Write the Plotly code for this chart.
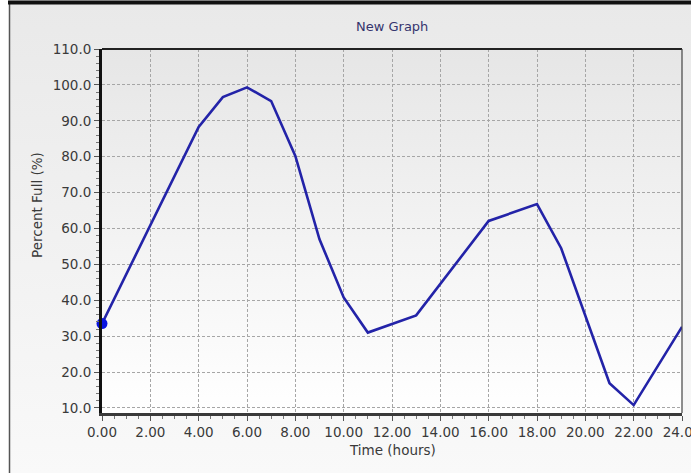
import base64
import plotly.graph_objects as go

# ---- data ----
hours = [0, 4, 5, 6, 7, 8, 9, 10, 11, 13, 16, 18, 19, 21, 22, 24]
percent_full = [33.5, 88.3, 96.6, 99.3, 95.5, 80.2, 57.0, 40.8, 31.0, 35.8,
                62.1, 66.8, 54.5, 16.9, 10.8, 32.6]
x_ticks = [0, 2, 4, 6, 8, 10, 12, 14, 16, 18, 20, 22, 24]
y_ticks = [10, 20, 30, 40, 50, 60, 70, 80, 90, 100, 110]

W, H = 691, 473
L, R, T, B = 102, 9, 49, 60
PW, PH = W - L - R, H - T - B

FONT = "DejaVu Sans"


def grad_uri(top, bottom):
    svg = (
        '<svg xmlns="http://www.w3.org/2000/svg" width="100" height="100" '
        'preserveAspectRatio="none">'
        '<defs><linearGradient id="g" x1="0" y1="0" x2="0" y2="1">'
        f'<stop offset="0" stop-color="{top}"/>'
        f'<stop offset="1" stop-color="{bottom}"/>'
        '</linearGradient></defs>'
        '<rect width="100" height="100" fill="url(#g)"/></svg>'
    )
    return "data:image/svg+xml;base64," + base64.b64encode(svg.encode()).decode()


def px(xp):
    return (xp - L) / PW


def py(yp):
    return (H - B - yp) / PH


fig = go.Figure()
fig.add_trace(go.Scatter(
    x=hours, y=percent_full, mode="lines",
    line=dict(color="#2323a8", width=2.6), hoverinfo="x+y", showlegend=False,
))
fig.add_trace(go.Scatter(
    x=hours[:1], y=percent_full[:1], mode="markers",
    marker=dict(color="#0a14e0", size=11, line=dict(width=0)),
    showlegend=False, cliponaxis=False,
))

axis_common = dict(
    showgrid=True, gridcolor="#a6a6a6", gridwidth=1, griddash="3px,2px",
    zeroline=False, showline=True, ticks="outside", ticklen=5, tickwidth=1,
    tickcolor="#555555", tickfont=dict(family=FONT, size=13.5, color="#3a3a3a"),
    automargin=False, ticklabeloverflow="allow",
)

fig.update_layout(
    width=W, height=H,
    margin=dict(l=L, r=R, t=T, b=B, pad=0),
    paper_bgcolor="#ffffff",
    plot_bgcolor="rgba(0,0,0,0)",
    showlegend=False,
    xaxis=dict(
        range=[0, 24], tickvals=x_ticks, tickformat=".2f",
        linecolor="#3a3a3a", linewidth=3,
        minor=dict(dtick=0.5, ticklen=3, tickcolor="#777777", ticks="outside", showgrid=False),
        **axis_common,
    ),
    yaxis=dict(
        range=[8.6, 110], tickvals=y_ticks, tickformat=".1f",
        linecolor="#111111", linewidth=3,
        minor=dict(dtick=2, ticklen=3, tickcolor="#777777", ticks="outside", showgrid=False),
        **axis_common,
    ),
    images=[
        dict(source=grad_uri("#e9e9e9", "#f9f9f9"), xref="paper", yref="paper",
             x=px(0), y=py(0), sizex=W / PW, sizey=H / PH,
             xanchor="left", yanchor="top", sizing="stretch", layer="below"),
        dict(source=grad_uri("#e6e6e6", "#ffffff"), xref="paper", yref="paper",
             x=0, y=1, sizex=1, sizey=1,
             xanchor="left", yanchor="top", sizing="stretch", layer="below"),
    ],
    shapes=[
        # outer frame: left white strip, gray border line, dark top bar
        dict(type="rect", xref="paper", yref="paper", x0=px(0), x1=px(9),
             y0=py(H), y1=py(0), fillcolor="#ffffff", line=dict(width=0), layer="below"),
        dict(type="line", xref="paper", yref="paper", x0=px(9.5), x1=px(9.5),
             y0=py(4), y1=py(H), line=dict(color="#555555", width=1.5)),
        dict(type="line", xref="paper", yref="paper", x0=px(8), x1=px(W),
             y0=py(2.5), y1=py(2.5), line=dict(color="#111111", width=4)),
        # plot frame (top/right)
        dict(type="line", xref="paper", yref="paper", x0=0, x1=1, y0=1, y1=1,
             line=dict(color="#222222", width=2)),
        dict(type="line", xref="paper", yref="paper", x0=1, x1=1, y0=0, y1=1,
             line=dict(color="#444444", width=1.2)),
    ],
    annotations=[
        dict(text="New Graph", xref="paper", yref="paper", x=0.5, y=py(27),
             showarrow=False, xanchor="center", yanchor="middle",
             font=dict(family=FONT, size=13, color="#35356e")),
        dict(text="Time (hours)", xref="paper", yref="paper", x=0.5, y=py(450),
             showarrow=False, xanchor="center", yanchor="middle",
             font=dict(family=FONT, size=13.5, color="#3a3a3a")),
        dict(text="Percent Full (%)", xref="paper", yref="paper", x=px(37), y=py(205),
             showarrow=False, xanchor="center", yanchor="middle", textangle=-90,
             font=dict(family=FONT, size=13.5, color="#3a3a3a")),
    ],
)

fig.write_html(
    "out.html",
    config={"displayModeBar": False},
    post_script="document.body.style.margin='0';document.body.style.overflow='hidden';",
)
